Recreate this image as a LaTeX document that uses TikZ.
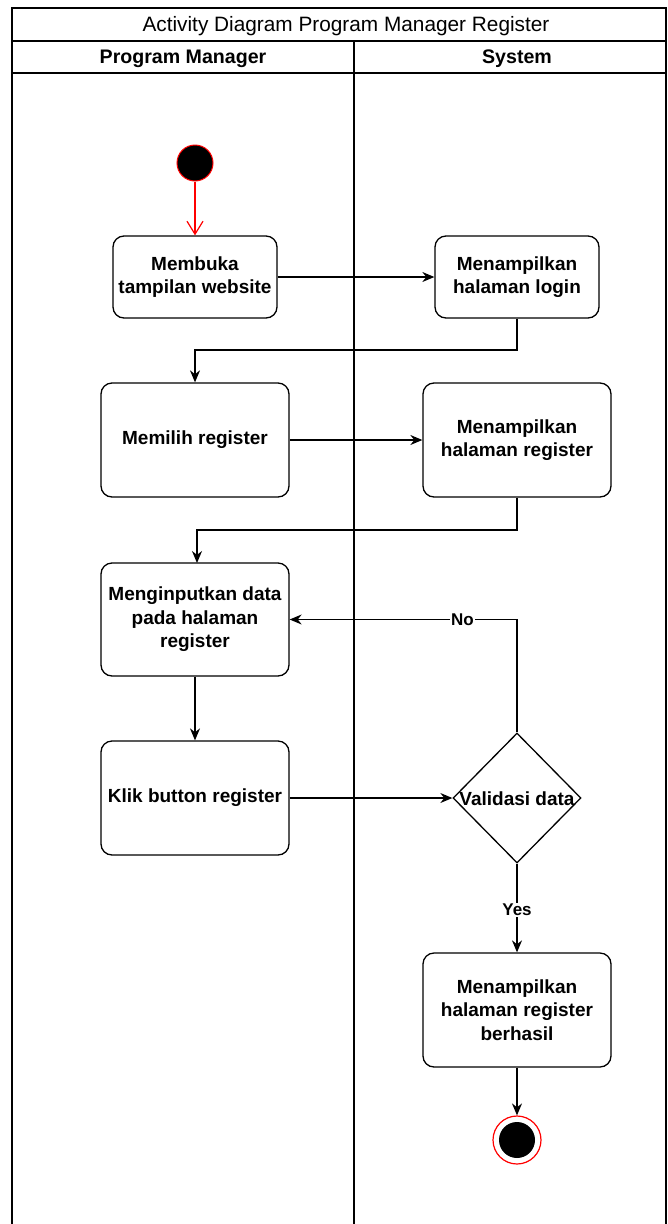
\documentclass[tikz,border=0pt]{standalone}
\usepackage{fontspec}
\setmainfont{Liberation Sans}
\usetikzlibrary{arrows.meta,shapes.geometric}
\begin{document}
\begin{tikzpicture}[x=1pt,y=-1pt,
  lane/.style={draw=black,line width=1.2pt},
  act/.style={draw=black,line width=1.3pt,rounded corners=11pt,fill=white,
    align=center,inner sep=0pt,font=\fontsize{19}{23.5}\selectfont\bfseries},
  flow/.style={draw=black,line width=1.3pt,-{Stealth[length=12pt,width=10pt]}},
  lbl/.style={fill=white,inner sep=1pt,font=\fontsize{17}{20}\selectfont\bfseries}]
\useasboundingbox (0,0) rectangle (667,1224);
% swimlane pool
\draw[lane] (12,1226) -- (12,8) -- (666,8) -- (666,1226);
\draw[lane] (12,41) -- (666,41);
\draw[lane] (12,73) -- (666,73);
\draw[lane] (354,41) -- (354,1226);
\node[font=\fontsize{20.8}{24}\selectfont] (title) at (346,26) {Activity Diagram Program Manager Register};
\node[font=\fontsize{19.6}{23}\selectfont\bfseries] (laneA) at (183,58.5) {Program Manager};
\node[font=\fontsize{19.6}{23}\selectfont\bfseries] (laneB) at (517,58.5) {System};
% initial state
\node[circle,draw=red,fill=black,line width=1pt,minimum size=36pt,inner sep=0pt] (start) at (195,163) {};
% activities
\node[act,minimum width=164pt,minimum height=82pt] (open) at (195,277) {Membuka\\tampilan website};
\node[act,minimum width=164pt,minimum height=82pt] (login) at (517,277) {Menampilkan\\halaman login};
\node[act,minimum width=188pt,minimum height=114pt] (choose) at (195,440) {Memilih register};
\node[act,minimum width=188pt,minimum height=114pt] (regpage) at (517,440) {Menampilkan\\halaman register};
\node[act,minimum width=188pt,minimum height=113pt] (input) at (195,619.5) {Menginputkan data\\pada halaman\\register};
\node[act,minimum width=188pt,minimum height=114pt] (click) at (195,798) {Klik button register};
\node[diamond,draw=black,line width=1.3pt,fill=white,minimum width=128pt,minimum height=130pt,inner sep=0pt] (valid) at (517,798) {};
\node[font=\fontsize{19}{23}\selectfont\bfseries] (validtxt) at (517,799) {Validasi data};
\node[act,minimum width=188pt,minimum height=114pt] (done) at (517,1010) {Menampilkan\\halaman register\\berhasil};
% final state
\node[circle,draw=red,fill=white,line width=1.2pt,minimum size=48pt,inner sep=0pt] (stop) at (517,1140) {};
\node[circle,fill=black,minimum size=36pt,inner sep=0pt] (stopcore) at (517,1140) {};
% transitions
\draw[draw=red,line width=1.2pt,-{Straight Barb[length=13pt,width=16pt,line width=1.2pt]}] (start) -- (open);
\draw[flow] (open) -- (login);
\draw[flow] (login.south) |- (195,350) -- (choose.north);
\draw[flow] (choose) -- (regpage);
\draw[flow] (regpage.south) |- (197,530) -- (197,563);
\draw[flow] (input) -- (click);
\draw[flow] (click) -- (valid.west);
\draw[flow] (valid.north) |- (input.east) node[lbl,pos=0.62] {No};
\draw[flow] (valid.south) -- (done.north) node[lbl,pos=0.52] {Yes};
\draw[flow] (done) -- (stop);
\end{tikzpicture}
\end{document}
